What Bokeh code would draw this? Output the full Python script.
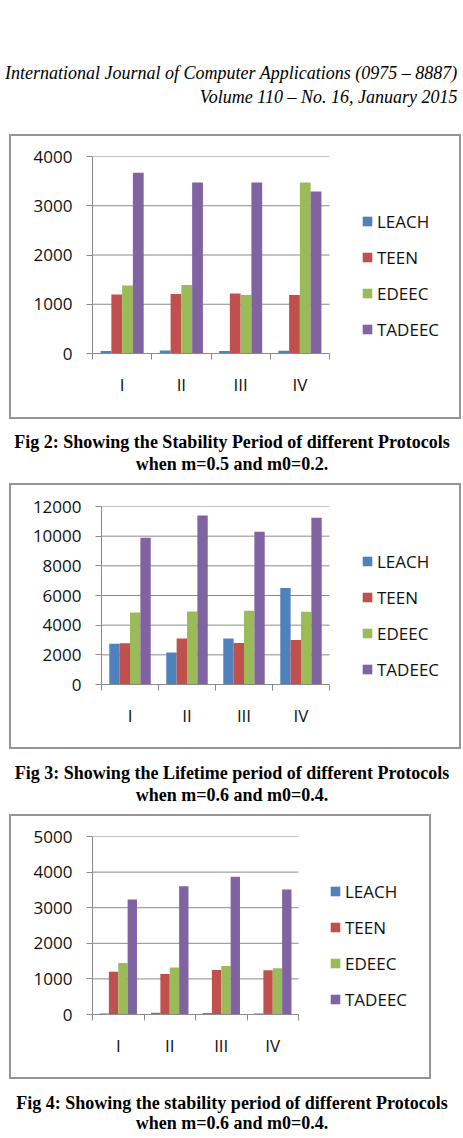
from bokeh.plotting import figure
from bokeh.layouts import column
from bokeh.models import (Range1d, FixedTicker, Legend, LegendItem,
                          LinearAxis, Column)
from bokeh.embed import file_html
from bokeh.resources import INLINE
from bokeh.core.properties import value
import numpy as np

W = 463

# ---------------- data ----------------
categories = ["I", "II", "III", "IV"]
series = ["LEACH", "TEEN", "EDEEC", "TADEEC"]
colors = ["#4F81BD", "#C0504D", "#9BBB59", "#8064A2"]

fig2_leach = [50, 60, 50, 55]
fig2_teen = [1200, 1210, 1220, 1190]
fig2_edeec = [1380, 1390, 1190, 3470]
fig2_tadeec = [3670, 3470, 3470, 3290]

fig3_leach = [2750, 2150, 3100, 6500]
fig3_teen = [2780, 3100, 2800, 3000]
fig3_edeec = [4850, 4920, 4980, 4900]
fig3_tadeec = [9900, 11400, 10300, 11250]

fig4_leach = [30, 50, 40, 25]
fig4_teen = [1200, 1140, 1250, 1240]
fig4_edeec = [1450, 1320, 1360, 1300]
fig4_tadeec = [3230, 3600, 3870, 3510]

header_lines = ["International Journal of Computer Applications (0975 \u2013 8887)",
                "Volume 110 \u2013 No. 16, January 2015"]
caption2 = ["Fig 2: Showing the Stability Period of different Protocols",
            "when m=0.5 and m0=0.2."]
caption3 = ["Fig 3: Showing the Lifetime period of different Protocols",
            "when m=0.6 and m0=0.4."]
caption4 = ["Fig 4: Showing the stability period of different Protocols",
            "when m=0.6 and m0=0.4."]

GRID = "#8a8a8a"
BOX = "#959595"
CHART_FONT = "Open Sans"
SERIF = "Liberation Serif"
BW = 2  # box border width


def text_fig(h, items):
    p = figure(width=W, height=h, x_range=Range1d(0, W), y_range=Range1d(h, 0),
               output_backend="svg", toolbar_location=None, min_border=0,
               x_axis_type=None, y_axis_type=None)
    p.grid.visible = False
    p.outline_line_color = None
    for (x, y, txt, align, style, size) in items:
        p.text(x=[x], y=[y], text=[txt], text_align=align, text_baseline="middle",
               text_font=value(SERIF), text_font_style=style, text_font_size=size,
               text_color="#000000")
    return p


def chart_box(bw, bh, left, axis_w, top, bottom_b, ymax, ystep, data, legend_x, legend_y):
    # inner figure sits inside a bordered box of outer size bw x bh
    w = bw - 2 * BW
    h = bh - 2 * BW
    right_b = 6
    frame_w = w - left - right_b
    n = len(categories)
    x_end = n * frame_w / axis_w
    p = figure(width=w, height=h, x_range=Range1d(0, x_end),
               y_range=Range1d(0, ymax),
               output_backend="svg", toolbar_location=None,
               min_border_left=left, min_border_right=right_b,
               min_border_top=top, min_border_bottom=bottom_b,
               x_axis_type=None, y_axis_type=None)
    p.outline_line_color = None

    ticks = list(range(0, ymax + 1, ystep))
    yticker = FixedTicker(ticks=ticks, minor_ticks=[])
    yaxis = LinearAxis(ticker=yticker, axis_line_color=GRID, major_tick_line_color=GRID,
                       major_tick_out=6, major_tick_in=0, minor_tick_line_color=None,
                       major_label_standoff=14,
                       major_label_text_font=CHART_FONT, major_label_text_font_size="17px",
                       major_label_text_color="#111111")
    p.add_layout(yaxis, "left")
    centers = [i + 0.5 for i in range(n)]
    xticker = FixedTicker(ticks=centers, minor_ticks=list(range(n + 1)))
    xaxis = LinearAxis(ticker=xticker, bounds=(0, n), axis_line_color=GRID,
                       major_tick_line_color=None,
                       major_tick_out=0, major_tick_in=0,
                       minor_tick_line_color=GRID, minor_tick_out=6, minor_tick_in=0,
                       major_label_standoff=13,
                       major_label_overrides={c: lab for c, lab in zip(centers, categories)},
                       major_label_text_font=CHART_FONT, major_label_text_font_size="17px",
                       major_label_text_color="#111111")
    p.add_layout(xaxis, "below")
    # horizontal gridlines across the category area only
    p.segment(x0=[0] * len(ticks), x1=[n] * len(ticks), y0=ticks, y1=ticks,
              line_color=GRID, line_width=1)

    wbar = 1 / 5.5
    items = []
    for i, (name, vals, col) in enumerate(zip(series, data, colors)):
        off = (1.25 + i) / 5.5 - 0.5
        xs = np.arange(n) + 0.5 + off
        r = p.vbar(x=xs, top=vals, bottom=0, width=wbar, fill_color=col, line_color=None)
        items.append(LegendItem(label=name, renderers=[r]))

    legend = Legend(items=items, location=(legend_x, legend_y), orientation="vertical",
                    glyph_width=12, glyph_height=12, label_standoff=4, spacing=12,
                    label_height=24, padding=0, margin=0,
                    border_line_alpha=0, background_fill_alpha=0,
                    label_text_font=CHART_FONT, label_text_font_size="17px",
                    label_text_color="#111111")
    p.add_layout(legend)
    return Column(children=[p], width=bw, height=bh, margin=(0, 0, 0, 9),
                  styles={"border": f"{BW}px solid {BOX}", "box-sizing": "border-box"})


header = text_fig(134, [
    (457, 72, header_lines[0], "right", "italic", "18px"),
    (457, 96, header_lines[1], "right", "italic", "18px"),
])

c1 = chart_box(452, 285, 81, 237, 20, 64, 4000, 1000,
               [fig2_leach, fig2_teen, fig2_edeec, fig2_tadeec], 269, 12)
t1 = text_fig(64, [
    (231.5, 22, caption2[0], "center", "bold", "18px"),
    (231.5, 44, caption2[1], "center", "bold", "18px"),
])
c2 = chart_box(452, 266, 90, 228, 21, 63, 12000, 2000,
               [fig3_leach, fig3_teen, fig3_edeec, fig3_tadeec], 260, 3)
t2 = text_fig(65, [
    (231.5, 23, caption3[0], "center", "bold", "18px"),
    (231.5, 45, caption3[1], "center", "bold", "18px"),
])
c3 = chart_box(422, 265, 81, 206, 20, 63, 5000, 1000,
               [fig4_leach, fig4_teen, fig4_edeec, fig4_tadeec], 237, 3)
t3 = text_fig(59, [
    (231.5, 23, caption4[0], "center", "bold", "18px"),
    (231.5, 43, caption4[1], "center", "bold", "18px"),
])

page = column(Column(children=[header]), c1, Column(children=[t1]), c2,
              Column(children=[t2]), c3, Column(children=[t3]), spacing=0)
open("out.html", "w").write(file_html(page, INLINE))
